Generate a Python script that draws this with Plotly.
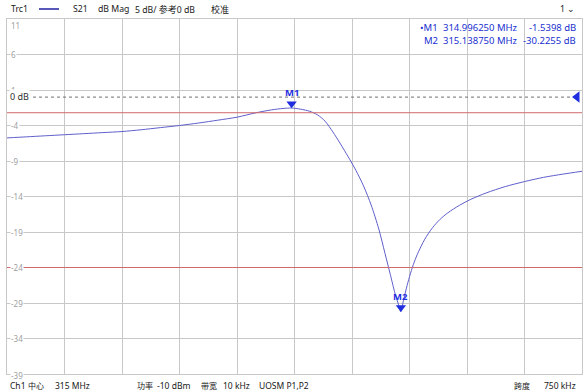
import plotly.graph_objects as go

# ---------------- data ----------------
freq_mhz = [314.625, 314.650, 314.675, 314.700, 314.725, 314.750, 314.775, 314.800,
            314.825, 314.850, 314.875, 314.900, 314.925, 314.950, 314.970, 314.985,
            314.99625, 315.008, 315.020, 315.030, 315.040, 315.050, 315.060, 315.070,
            315.080, 315.090, 315.100, 315.110, 315.118, 315.125, 315.131, 315.135,
            315.13875, 315.142, 315.146, 315.150, 315.155, 315.160, 315.170, 315.180,
            315.190, 315.200, 315.215, 315.230, 315.250, 315.275, 315.300, 315.325,
            315.350, 315.375]
s21_db = [-5.75, -5.6, -5.45, -5.3, -5.15, -5.0, -4.85, -4.6,
          -4.3, -4.0, -3.65, -3.25, -2.83, -2.2, -1.8, -1.6,
          -1.54, -1.7, -2.0, -2.5, -3.4, -4.9, -6.6, -8.4,
          -10.3, -12.5, -15.2, -18.6, -22.0, -25.0, -27.6, -29.0,
          -30.23, -28.7, -26.9, -25.3, -23.6, -22.2, -20.0, -18.4,
          -17.2, -16.3, -15.25, -14.4, -13.5, -12.6, -11.9, -11.3,
          -10.85, -10.45]

marker_names = ["M1", "M2"]
marker_freq = [314.99625, 315.13875]
marker_db = [-1.5398, -30.2255]
marker_freq_txt = ["314.996250 MHz", "315.138750 MHz"]
marker_db_txt = ["-1.5398 dB", "-30.2255 dB"]

limit_lines_db = [-2.2, -24.0]
ref_level_db = 0.0
ytick_vals = [11, 6, 1, -4, -9, -14, -19, -24, -29, -34, -39]

center_mhz = 315.0
span_mhz = 0.75
x_lo, x_hi = center_mhz - span_mhz / 2, center_mhz + span_mhz / 2
y_lo, y_hi = -39, 11

# ---------------- layout geometry ----------------
W, H = 585, 391
L, R, T, B = 7, 3, 19, 17
PW, PH = W - L - R, H - T - B

def px(x):
    return (x - L) / PW

def py(y):
    return (H - B - y) / PH

FONT = "Noto Sans, Noto Sans CJK SC, sans-serif"
TRACE = "#5f5fcc"
BLUE = "#1f2fe0"
GRID = "#c8c8c8"
RED = "#d06a6a"

def cjk(s, size=8):
    return '<span style="font-size:%dpx">%s</span>' % (size, s)

fig = go.Figure()

fig.add_trace(go.Scatter(x=freq_mhz, y=s21_db, mode="lines",
                         line=dict(color=TRACE, width=1, shape="spline", smoothing=0.8),
                         hoverinfo="skip", showlegend=False))

# marker triangles (tip on the trace)
db_per_px = (y_hi - y_lo) / PH
fig.add_trace(go.Scatter(x=marker_freq, y=[v + 4.2 * db_per_px for v in marker_db],
                         mode="markers",
                         marker=dict(symbol="triangle-down", size=9, color=BLUE),
                         hoverinfo="skip", showlegend=False, cliponaxis=False))
# reference level triangle on the right
mhz_per_px = (x_hi - x_lo) / PW
fig.add_trace(go.Scatter(x=[x_hi - 5 * mhz_per_px], y=[ref_level_db], mode="markers",
                         marker=dict(symbol="triangle-left", size=10, color=BLUE),
                         hoverinfo="skip", showlegend=False, cliponaxis=False))

shapes = []
for v in limit_lines_db:
    shapes.append(dict(type="line", xref="paper", yref="y", x0=0, x1=1, y0=v, y1=v,
                       line=dict(color=RED, width=1), layer="above"))
shapes.append(dict(type="line", xref="paper", yref="y", x0=px(33), x1=px(572),
                   y0=ref_level_db, y1=ref_level_db,
                   line=dict(color="#707070", width=1, dash="dot")))

ann = []
# y tick labels drawn inside the plot
for v in ytick_vals:
    ys = 0
    if v == y_hi:
        ys = -6
    elif v == y_lo:
        ys = -1
    ann.append(dict(x=px(10), y=v, xref="paper", yref="y", text=str(v), showarrow=False,
                    xanchor="left", yanchor="middle", yshift=ys,
                    font=dict(family=FONT, size=8, color="#a0a0a0"),
                    bgcolor="white", borderpad=0))
ann.append(dict(x=px(9), y=ref_level_db, xref="paper", yref="y", text="0 dB", showarrow=False,
                xanchor="left", yanchor="middle", yshift=0.5,
                font=dict(family=FONT, size=9, color="#303030"),
                bgcolor="white", borderpad=0))

# marker labels
for n, f, v in zip(marker_names, marker_freq, marker_db):
    ann.append(dict(x=f, y=v, xref="x", yref="y", text="<b>%s</b>" % n, showarrow=False,
                    xanchor="center", yanchor="bottom", yshift=7,
                    font=dict(family=FONT, size=9.5, color=BLUE)))

# header
hdr_font = dict(family=FONT, size=8.7, color="#202020")
def hdr(x, s, anchor="left"):
    ann.append(dict(x=px(x), y=py(9), xref="paper", yref="paper", text=s, showarrow=False,
                    xanchor=anchor, yanchor="middle", font=hdr_font))
hdr(9, "Trc1")
shapes.append(dict(type="line", xref="paper", yref="paper", x0=px(39), x1=px(59),
                   y0=py(9), y1=py(9), line=dict(color="#2020a0", width=1.5)))
hdr(71, "S21")
hdr(96, "dB Mag")
hdr(133, "5 dB/ " + cjk("参考", 9) + "0 dB")
hdr(209, cjk("校准", 9))
hdr(577, "1 ⌄", "right")

# marker table
tab_font = dict(family=FONT, size=9.5, color="#2030d0")
for i, (n, ft, dt) in enumerate(zip(marker_names, marker_freq_txt, marker_db_txt)):
    yy = py(28 + 12 * i)
    name = ("•" + n) if i == 0 else n
    ann.append(dict(x=px(440), y=yy, xref="paper", yref="paper", text=name, showarrow=False,
                    xanchor="right", yanchor="middle", font=tab_font))
    ann.append(dict(x=px(520), y=yy, xref="paper", yref="paper", text=ft, showarrow=False,
                    xanchor="right", yanchor="middle", font=tab_font))
    ann.append(dict(x=px(578), y=yy, xref="paper", yref="paper", text=dt, showarrow=False,
                    xanchor="right", yanchor="middle", font=tab_font))

# footer
ft_font = dict(family=FONT, size=8.5, color="#202020")
def foot(x, s, anchor="left"):
    ann.append(dict(x=px(x), y=py(385.5), xref="paper", yref="paper", text=s, showarrow=False,
                    xanchor=anchor, yanchor="middle", font=ft_font))
foot(8, "Ch1")
foot(26, cjk("中心"))
foot(53, "315 MHz")
foot(135, cjk("功率"))
foot(155, "-10 dBm")
foot(199, cjk("带宽"))
foot(221, "10 kHz")
foot(257, "UOSM P1,P2")
foot(512, cjk("跨度"))
foot(578, "750 kHz", "right")

fig.update_layout(
    width=W, height=H,
    margin=dict(l=L, r=R, t=T, b=B, pad=0),
    paper_bgcolor="white", plot_bgcolor="white",
    showlegend=False,
    xaxis=dict(range=[x_lo, x_hi], tick0=x_lo, dtick=span_mhz / 10, showticklabels=False,
               showgrid=True, gridcolor=GRID, gridwidth=1, zeroline=False,
               showline=True, linecolor=GRID, linewidth=1, mirror=True, ticks=""),
    yaxis=dict(range=[y_lo, y_hi], tick0=y_hi, dtick=5, showticklabels=False,
               showgrid=True, gridcolor=GRID, gridwidth=1, zeroline=False,
               showline=True, linecolor=GRID, linewidth=1, mirror=True, ticks=""),
    shapes=shapes, annotations=ann,
)

fig.write_html("out.html")
